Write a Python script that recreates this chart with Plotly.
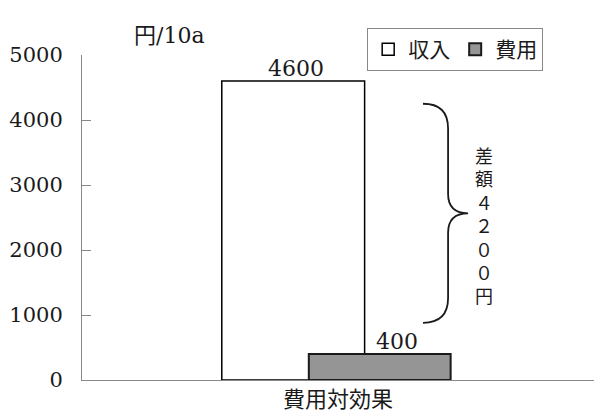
import plotly.graph_objects as go

# Data
categories = ["費用対効果"]
income = [4600]
cost = [400]
series_names = ["収入", "費用"]
y_ticks = [0, 1000, 2000, 3000, 4000, 5000]
diff_label = "差額４２００円"
y_unit = "円/10a"

SERIF = "DejaVu Serif, Noto Sans CJK JP, serif"
INK = "#1a1a1a"

fig = go.Figure()
fig.add_trace(go.Bar(
    x=categories, y=income, name=series_names[0],
    width=0.279, offset=-0.227,
    marker=dict(color="white", line=dict(color="black", width=1.5)),
))
fig.add_trace(go.Bar(
    x=categories, y=cost, name=series_names[1],
    width=0.277, offset=-0.057,
    marker=dict(color="#959595", line=dict(color="#1a1a1a", width=2)),
))

# value labels above the bars
fig.add_annotation(x=-0.082, y=income[0], text=str(income[0]), showarrow=False,
                   yanchor="bottom", yshift=-2, font=dict(family=SERIF, size=22, color=INK))
fig.add_annotation(x=0.115, y=cost[0], text=str(cost[0]), showarrow=False,
                   yanchor="bottom", yshift=-2, font=dict(family=SERIF, size=22, color=INK))

# brace marking the difference between income and cost
top, bottom = 4250, 880
mid = (top + bottom) / 2
x0, x1, xt = 0.666, 0.715, 0.754
brace = (f"M {x0},{top} Q {x1},{top} {x1},{top-380} L {x1},{mid+300} "
         f"Q {x1},{mid} {xt},{mid} Q {x1},{mid} {x1},{mid-300} "
         f"L {x1},{bottom+380} Q {x1},{bottom} {x0},{bottom}")
fig.add_shape(type="path", path=brace, xref="paper", yref="y",
              line=dict(color=INK, width=1.8))

fig.add_annotation(xref="paper", yref="y", x=0.806, y=mid - 200,
                   text="<br>".join(diff_label), showarrow=False,
                   font=dict(family=SERIF, size=18, color=INK))

# unit label
fig.add_annotation(xref="paper", yref="paper", x=0.098, y=1.105, text=y_unit,
                   showarrow=False, font=dict(family=SERIF, size=22, color=INK))

fig.update_layout(
    width=595, height=418,
    margin=dict(l=82, r=1, t=55, b=38, autoexpand=False),
    barmode="overlay",
    plot_bgcolor="white", paper_bgcolor="white",
    showlegend=True,
    legend=dict(orientation="h", x=0.557, y=1.083, xanchor="left", yanchor="top",
                bordercolor="#888", borderwidth=1, bgcolor="white",
                font=dict(family=SERIF, size=21, color=INK),
                itemwidth=30, tracegroupgap=0),
    font=dict(family=SERIF, color=INK),
)
fig.update_yaxes(range=[0, 5000], tickvals=y_ticks, ticks="inside", ticklen=9,
                 tickcolor="#888", showline=True, linecolor="#888", linewidth=1,
                 showgrid=False, zeroline=False, ticklabelstandoff=14,
                 tickfont=dict(family=SERIF, size=21, color=INK))
fig.update_xaxes(range=[-0.5, 0.5], tickson="boundaries", ticks="inside", ticklen=9,
                 tickcolor="#888", showline=True, linecolor="#888", linewidth=1,
                 showgrid=False, tickfont=dict(family=SERIF, size=22, color=INK))

fig.write_html("out.html")
